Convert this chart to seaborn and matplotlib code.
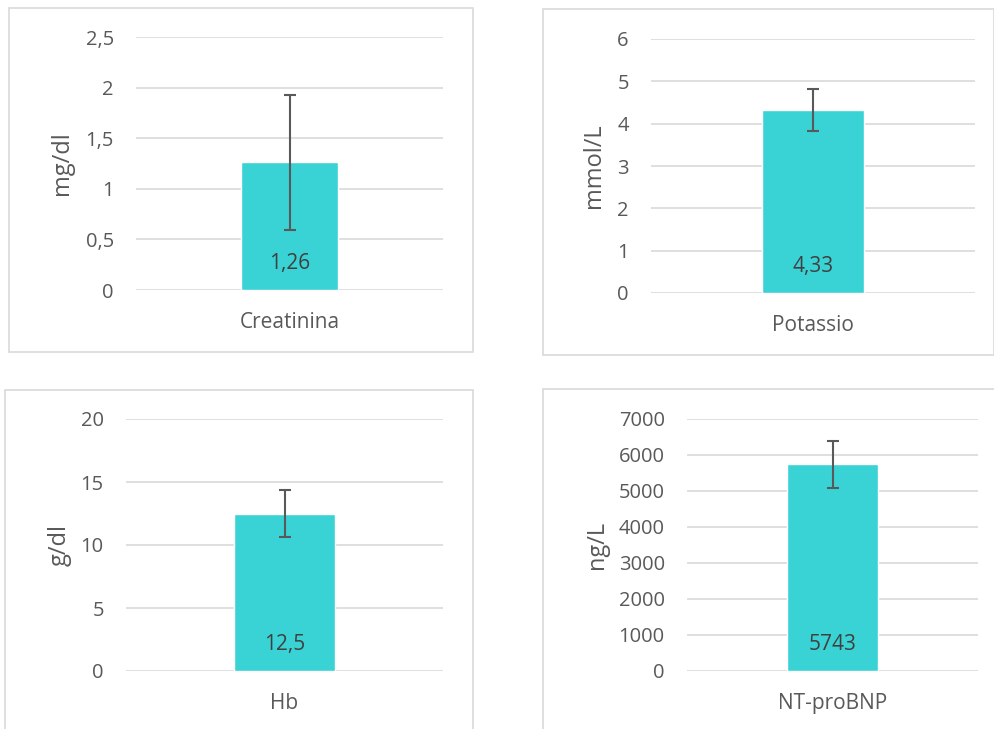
import matplotlib
matplotlib.use("Agg")
import matplotlib.pyplot as plt
import seaborn as sns
import pandas as pd
from matplotlib.patches import Rectangle
from matplotlib.ticker import FuncFormatter, MultipleLocator

# dati
categories = ["Creatinina", "Potassio", "Hb", "NT-proBNP"]
means = [1.26, 4.33, 12.5, 5743]
errors = [0.67, 0.50, 1.9, 650]
units = ["mg/dl", "mmol/L", "g/dl", "ng/L"]
value_labels = ["1,26", "4,33", "12,5", "5743"]
y_max = [2.5, 6, 20, 7000]
y_step = [0.5, 1, 5, 1000]

# layout in pixel (x0, y_top, x1, y_bottom) dell'area di disegno
W, H = 995, 729
plot_boxes = [(136, 37, 443, 290), (651, 39, 975, 293),
              (126, 419, 443, 671), (687, 419, 978, 671)]
frame_boxes = [(9, 8, 473, 352), (543, 9, 994, 355),
               (5, 390, 473, 735), (543, 389, 1000, 735)]
label_x = [62, 594, 60, 597]

BAR = "#39D3D5"
TXT = "#595959"
GRID = "#D9D9D9"

sns.set_theme(style="white")
plt.rcParams["font.family"] = ["Open Sans", "DejaVu Sans"]

fig = plt.figure(figsize=(W / 100, H / 100), dpi=100)

fmt = FuncFormatter(lambda v, pos: f"{v:g}".replace(".", ","))

for i in range(4):
    # cornice del singolo grafico
    fx0, fy0, fx1, fy1 = frame_boxes[i]
    fig.add_artist(Rectangle((fx0 / W, 1 - fy1 / H), (fx1 - fx0) / W, (fy1 - fy0) / H,
                             transform=fig.transFigure, fill=False,
                             edgecolor=GRID, linewidth=1.2))

    x0, yt, x1, yb = plot_boxes[i]
    ax = fig.add_axes([x0 / W, 1 - yb / H, (x1 - x0) / W, (yb - yt) / H])
    df = pd.DataFrame({"cat": [categories[i]], "val": [means[i]]})
    sns.barplot(data=df, x="cat", y="val", ax=ax, color=BAR, width=0.316,
                errorbar=None, saturation=1, zorder=2)
    ax.errorbar(0, means[i], yerr=errors[i], fmt="none", ecolor=TXT,
                elinewidth=1.5, capsize=4, capthick=1.5, zorder=3)

    ax.set_xlim(-0.5, 0.5)
    ax.set_ylim(0, y_max[i])
    ax.yaxis.set_major_locator(MultipleLocator(y_step[i]))
    ax.yaxis.set_major_formatter(fmt)
    ax.grid(axis="y", color=GRID, linewidth=1.2, zorder=0)
    ax.set_axisbelow(True)
    for s in ax.spines.values():
        s.set_visible(False)
    ax.tick_params(axis="y", length=0, pad=16, labelsize=14.5, labelcolor=TXT)
    ax.tick_params(axis="x", length=0, pad=16, labelsize=15, labelcolor=TXT)

    ax.set_xlabel("")
    ax.set_ylabel(units[i], fontsize=17, color=TXT)
    ax.yaxis.label.set_verticalalignment("center")
    ax.yaxis.set_label_coords((label_x[i] - x0) / (x1 - x0), 0.5)

    # etichetta del valore dentro la barra
    ax.annotate(value_labels[i], xy=(0, 0), xytext=(0, 19), textcoords="offset points",
                ha="center", va="center", fontsize=15, color="#404040", zorder=4)

fig.savefig("out.png", dpi=100)
plt.close(fig)
